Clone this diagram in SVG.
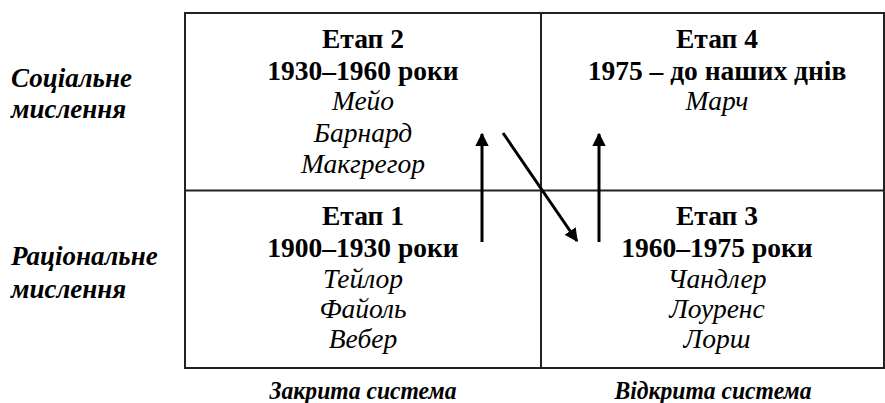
<svg xmlns="http://www.w3.org/2000/svg" width="885" height="403" viewBox="0 0 885 403">
<style>
.grid{fill:none;stroke:#222;stroke-width:2}
.b{font-family:"Liberation Serif",serif;font-weight:bold;font-size:27.5px;text-anchor:middle;fill:#000}
.i{font-family:"Liberation Serif",serif;font-style:italic;font-size:27.5px;text-anchor:middle;fill:#000}
.lab{font-family:"Liberation Serif",serif;font-style:italic;font-weight:bold;font-size:27px;fill:#000}
.ax{font-family:"Liberation Serif",serif;font-style:italic;font-weight:bold;font-size:25px;text-anchor:middle;fill:#000}
.arr{stroke:#000;stroke-width:3;fill:none;marker-end:url(#ah)}
</style>
<defs>
<marker id="ah" viewBox="0 0 10 10" refX="9" refY="5" markerWidth="4.5" markerHeight="4.5" orient="auto" markerUnits="strokeWidth">
<path d="M0,0 L10,5 L0,10 z" fill="#000"/>
</marker>
</defs>
<rect fill="#fff" width="885" height="403"/>
<g id="grid">
<rect class="grid" x="185" y="13" width="699" height="355"/>
<line class="grid" x1="185" y1="190.5" x2="884" y2="190.5"/>
<line class="grid" x1="541" y1="13" x2="541" y2="368"/>
</g>
<g id="stage2">
<text class="b" x="363" y="48">Етап 2</text>
<text class="b" x="363" y="80">1930–1960 роки</text>
<text class="i" x="363" y="110">Мейо</text>
<text class="i" x="363" y="142">Барнард</text>
<text class="i" x="363" y="173">Макгрегор</text>
</g>
<g id="stage4">
<text class="b" x="717" y="48">Етап 4</text>
<text class="b" x="717" y="80">1975 – до наших днів</text>
<text class="i" x="717" y="110">Марч</text>
</g>
<g id="stage1">
<text class="b" x="363" y="225">Етап 1</text>
<text class="b" x="363" y="257">1900–1930 роки</text>
<text class="i" x="363" y="288">Тейлор</text>
<text class="i" x="363" y="318">Файоль</text>
<text class="i" x="363" y="348">Вебер</text>
</g>
<g id="stage3">
<text class="b" x="717" y="225">Етап 3</text>
<text class="b" x="717" y="257">1960–1975 роки</text>
<text class="i" x="717" y="288">Чандлер</text>
<text class="i" x="717" y="318">Лоуренс</text>
<text class="i" x="717" y="348">Лорш</text>
</g>
<g id="labels">
<text class="lab" x="11" y="87">Соціальне</text>
<text class="lab" x="11" y="118">мислення</text>
<text class="lab" x="11" y="265">Раціональне</text>
<text class="lab" x="11" y="298">мислення</text>
<text class="ax" x="363" y="399" textLength="187" lengthAdjust="spacingAndGlyphs">Закрита система</text>
<text class="ax" x="713" y="399" textLength="197" lengthAdjust="spacingAndGlyphs">Відкрита система</text>
</g>
<g id="connectors">
<line class="arr" x1="482" y1="242" x2="482" y2="134"/>
<line class="arr" x1="503" y1="133" x2="577" y2="241"/>
<line class="arr" x1="599" y1="242" x2="599" y2="134"/>
</g>
</svg>
